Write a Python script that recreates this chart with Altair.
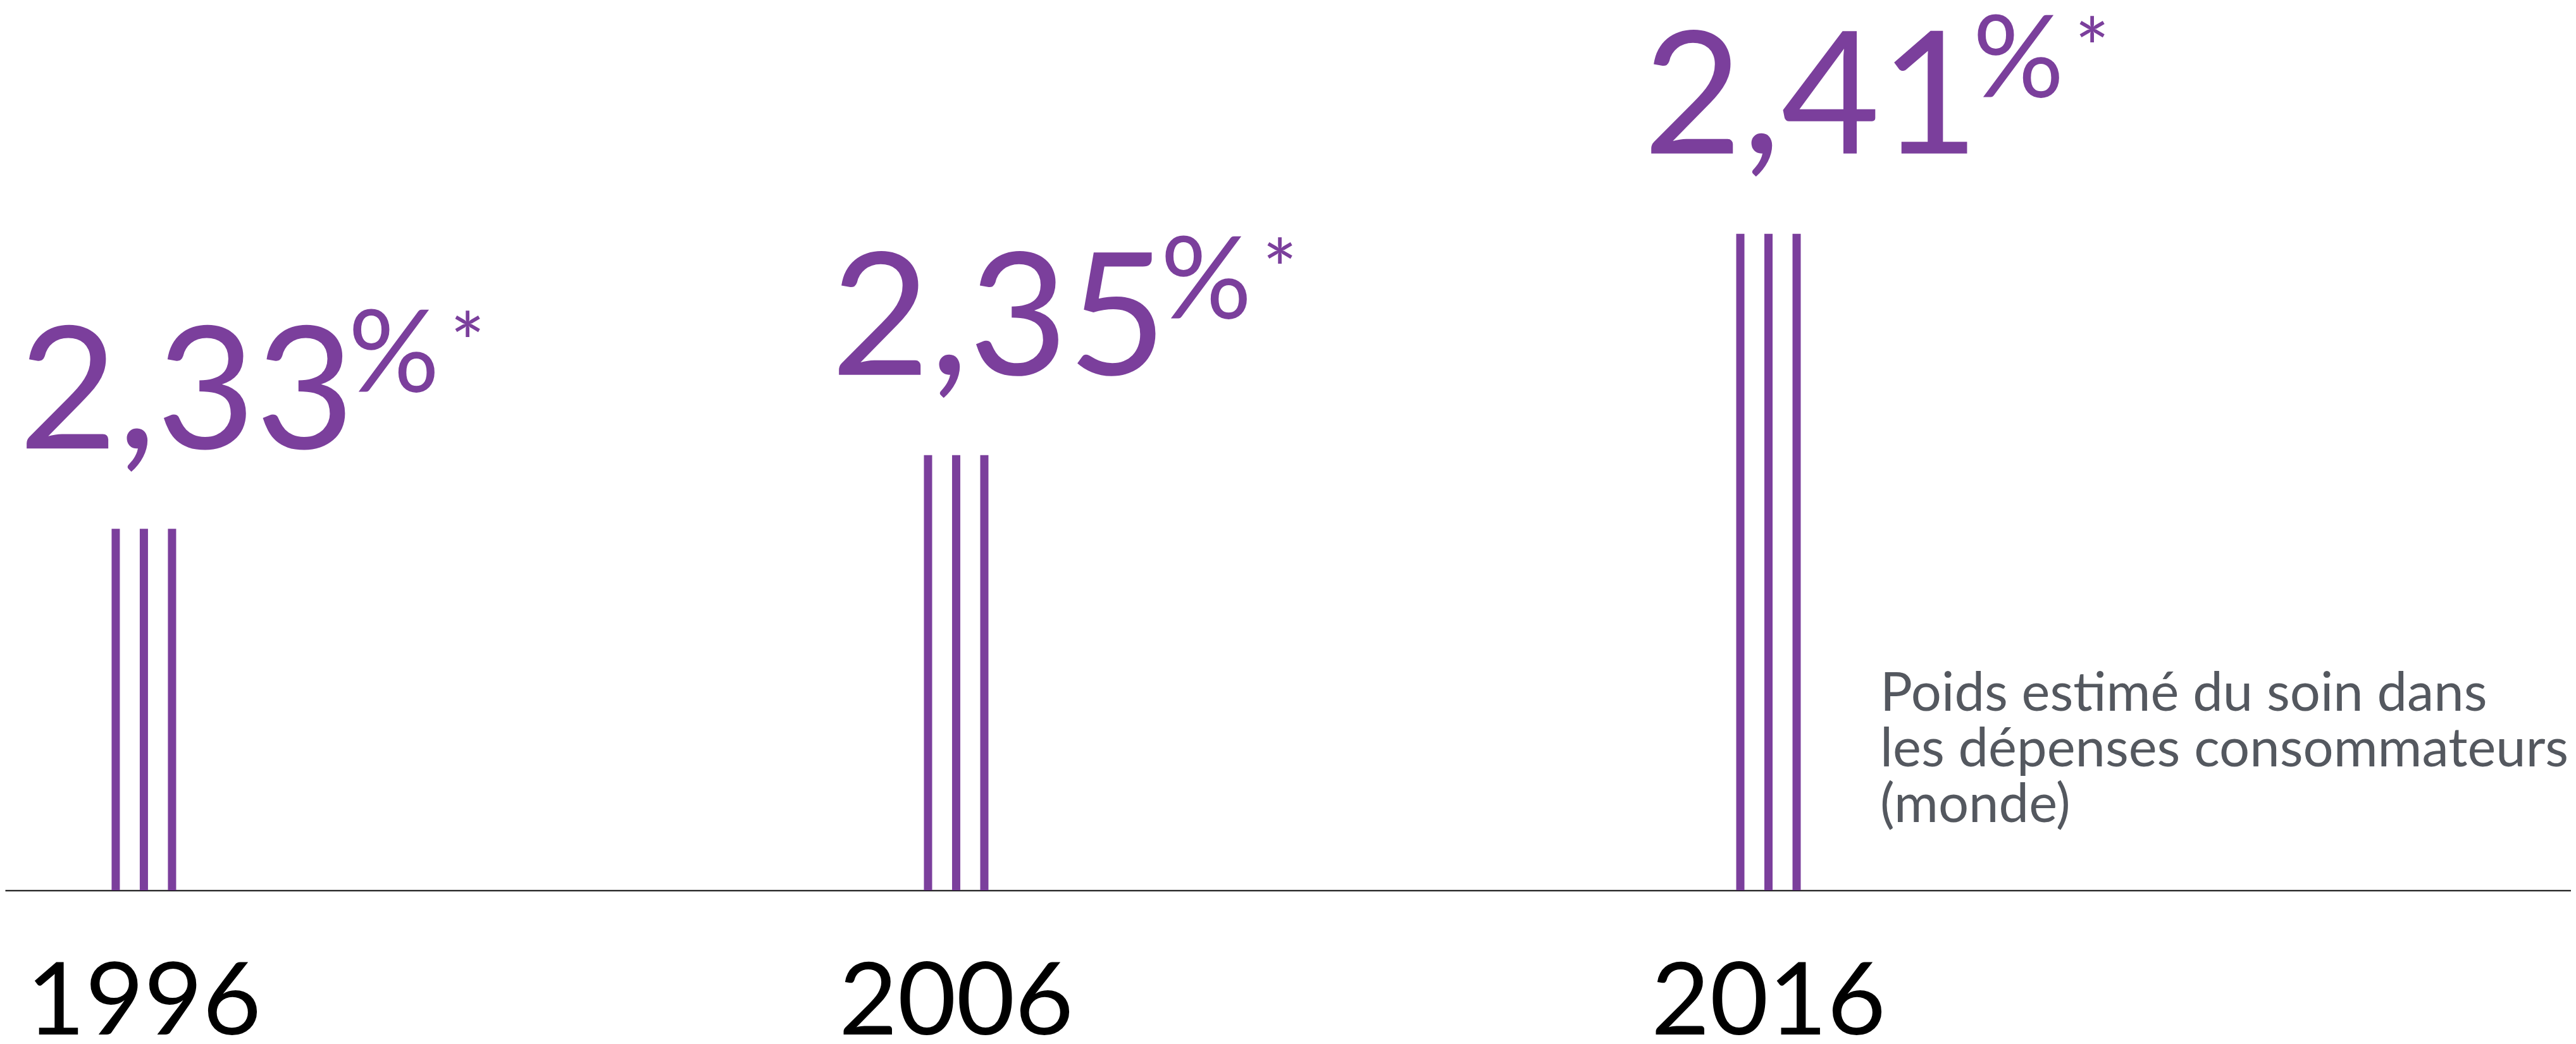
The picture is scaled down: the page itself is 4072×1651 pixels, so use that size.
import altair as alt
import pandas as pd

# ---- data ----
years = [1996, 2006, 2016]
values = [2.33, 2.35, 2.41]
value_labels = ["2,33", "2,35", "2,41"]
caption_lines = ["Poids estimé du soin dans", "les dépenses consommateurs", "(monde)"]

PURPLE = "#7b3f9c"
GREY = "#54585f"
FONT = "Lato"
Y_MIN, Y_MAX = 2.232, 2.472
X_MIN, X_MAX = 1994.33, 2025.84

df = pd.DataFrame({"year": years, "value": values, "label": value_labels})

x = alt.X(
    "year:Q",
    scale=alt.Scale(domain=[X_MIN, X_MAX], nice=False, zero=False),
    axis=alt.Axis(
        title=None, values=years, labels=False, ticks=False, grid=False,
        domain=True, domainColor="black", domainWidth=2,
    ),
)
y = alt.Y("value:Q", scale=alt.Scale(domain=[Y_MIN, Y_MAX], zero=False, nice=False), axis=None)

base = alt.Chart(df)

layers = []
for off in [-44.5, 0, 44.5]:
    layers.append(
        base.mark_bar(color=PURPLE, size=13, xOffset=off, clip=True).encode(x=x, y=y)
    )

nums = base.mark_text(
    font=FONT, fontSize=270, color=PURPLE, align="left", baseline="alphabetic", dx=-198, dy=-127
).encode(x=x, y=y, text="label:N")

pct = base.mark_text(
    font=FONT, fontSize=180, color=PURPLE, align="left", baseline="alphabetic", dx=323, dy=-217, text="%"
).encode(x=x, y=y)

star = base.mark_text(
    font=FONT, fontSize=130, color=PURPLE, align="left", baseline="alphabetic", dx=484, dy=-247, text="*"
).encode(x=x, y=y)

year_labels = base.mark_text(
    font=FONT, fontSize=160, color="black", align="center", baseline="alphabetic"
).encode(x=x, y=alt.value(1628), text=alt.Text("year:Q", format="d"))

one_row = base.transform_filter(alt.datum.year == years[0])
cap_layers = []
for i, line in enumerate(caption_lines):
    cap_layers.append(
        one_row.mark_text(
            text=line, font=FONT, fontSize=85, color=GREY, align="left", baseline="alphabetic"
        ).encode(x=alt.value(2964), y=alt.value(1116 + 88 * i))
    )

chart = (
    alt.layer(*layers, nums, pct, star, year_labels, *cap_layers)
    .properties(
        width=4056, height=1400,
        autosize=alt.AutoSizeParams(type="none"),
        padding={"left": 0, "top": 0, "right": 0, "bottom": 230},
        background="white",
    )
    .configure_view(strokeWidth=0)
)

chart.save("out.html", embed_options={"renderer": "svg", "actions": False})
